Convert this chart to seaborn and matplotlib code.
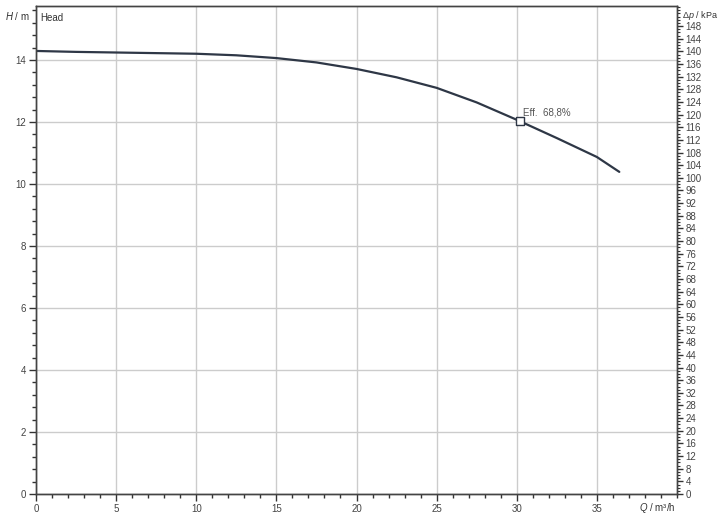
import matplotlib
matplotlib.use("Agg")
import matplotlib.pyplot as plt
import seaborn as sns
import numpy as np
import pandas as pd
from matplotlib.ticker import MultipleLocator

# Data
flow_q = [0, 2.5, 5, 7.5, 10, 12.5, 15, 17.5, 20, 22.5, 25, 27.5, 30, 32.5, 35, 36.4]
head_h = [14.29, 14.26, 14.24, 14.22, 14.20, 14.15, 14.06, 13.92, 13.71, 13.44, 13.10, 12.63, 12.07, 11.48, 10.87, 10.39]
eff_q = [30.2]
eff_h = [12.02]
eff_label = "Eff.  68,8%"

sns.set_style("white")
plt.rcParams['font.family'] = ['Liberation Sans', 'DejaVu Sans']
plt.rcParams['mathtext.fontset'] = 'custom'
plt.rcParams['mathtext.it'] = 'Liberation Sans:italic'
plt.rcParams['mathtext.rm'] = 'Liberation Sans'

fig = plt.figure(figsize=(7.2, 5.14), dpi=100)
ax = fig.add_axes([36/720, 20/514, (677-36)/720, (494-6)/514])

df = pd.DataFrame({"Q": flow_q, "H": head_h})
sns.lineplot(data=df, x="Q", y="H", ax=ax, color="#2e3746", linewidth=1.6)
sns.scatterplot(x=eff_q, y=eff_h, ax=ax, marker="s", s=28, facecolor="white",
                edgecolor="#2e3746", linewidth=1.0, zorder=5)
ax.annotate(eff_label, (eff_q[0], eff_h[0]), xytext=(2, 4), textcoords="offset points",
            fontsize=7, color="#555555")

ymax = 15.74
ax.set_xlim(0, 40)
ax.set_ylim(0, ymax)
ax.set_xlabel("")
ax.set_ylabel("")
ax.set_xticks([0, 5, 10, 15, 20, 25, 30, 35])
ax.xaxis.set_minor_locator(MultipleLocator(1))
ax.yaxis.set_major_locator(MultipleLocator(2))
ax.yaxis.set_minor_locator(MultipleLocator(0.4))
ax.grid(True, which="major", color="#cccccc", linewidth=1)
ax.tick_params(axis="both", which="major", direction="out", length=5, width=1,
               labelsize=7, colors="#333333", labelcolor="#444444", pad=2)
ax.tick_params(axis="both", which="minor", direction="out", length=3, width=1, colors="#333333")
ax.tick_params(axis="x", bottom=True, which="both")
ax.tick_params(axis="y", left=True, which="both")
for s in ax.spines.values():
    s.set_color("#444444")
    s.set_linewidth(1)

ax2 = ax.twinx()
ax2.set_ylim(0, ymax * 9.80665)
ax2.set_yticks(np.arange(0, 149, 4))
ax2.yaxis.set_minor_locator(MultipleLocator(1))
ax2.tick_params(axis="y", which="major", direction="out", length=4, width=1,
                labelsize=7, colors="#333333", labelcolor="#444444", pad=2)
ax2.tick_params(axis="y", which="minor", direction="out", length=2, width=0.8, colors="#333333")
ax2.grid(False)
for s in ax2.spines.values():
    s.set_color("#444444")
    s.set_linewidth(1)

fig.text(5/720, 1 - 16/514, r"$H$ / m", fontsize=7, color="#333333", va="center")
ax.text(0.006, 0.985, "Head", transform=ax.transAxes, fontsize=7, color="#333333", va="top")
fig.text(718/720, 1 - 15/514, r"Δ$p$ / kPa", fontsize=6.5, color="#333333", va="center", ha="right")
fig.text(676/720, 1 - 508/514, r"$Q$ / m³/h", fontsize=7, color="#333333", va="center", ha="right")

fig.savefig("out.png", dpi=100)
